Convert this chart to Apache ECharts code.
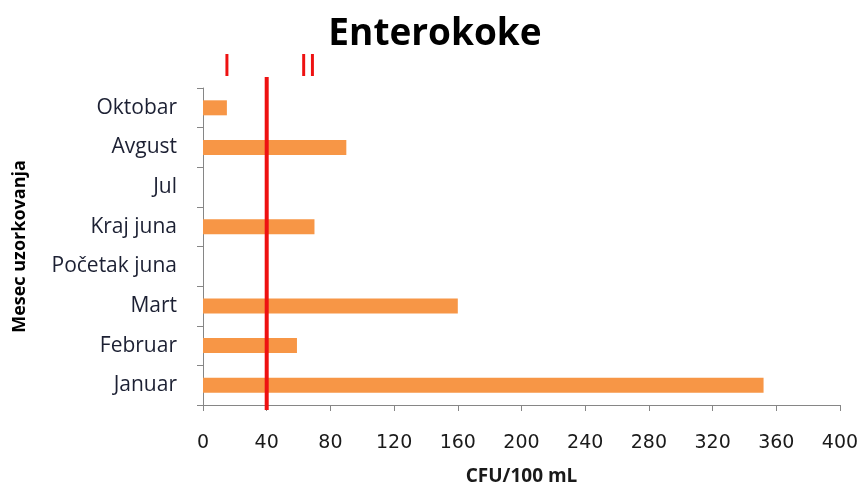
<!DOCTYPE html>
<html>
<head>
<meta charset="utf-8">
<script src="https://cdn.jsdelivr.net/npm/echarts@6/dist/echarts.min.js"></script>
<style>
  html, body { margin: 0; padding: 0; background: #fff; }
  #chart { width: 863px; height: 487px; }
</style>
</head>
<body>
<div id="chart"></div>
<script>
// Sampling months, bottom to top
const months = ['Januar', 'Februar', 'Mart', 'Početak juna', 'Kraj juna', 'Jul', 'Avgust', 'Oktobar'];
// Enterococci counts, CFU/100 mL
const counts = [352, 59, 160, 0, 70, 0, 90, 15];
// Value axis ticks
const axisMin = 0;
const axisMax = 400;
const axisStep = 40;
// Limit line and quality class marks
const limitValue = 40;
const classLabels = ['I', 'II'];
const classValues = [15, 66];

const chart = echarts.init(document.getElementById('chart'));

const labelFont = '"Open Sans", sans-serif';

chart.setOption({
  animation: false,
  backgroundColor: '#ffffff',
  title: {
    text: 'Enterokoke',
    left: 430,
    textAlign: 'center',
    top: 11,
    textStyle: { fontFamily: labelFont, fontWeight: 'bold', fontSize: 37, color: '#000' }
  },
  grid: { left: 203, right: 23, top: 88, bottom: 82, containLabel: false, outerBoundsMode: 'none' },
  xAxis: {
    type: 'value',
    min: axisMin,
    max: axisMax,
    interval: axisStep,
    name: 'CFU/100 mL',
    nameLocation: 'middle',
    nameGap: 62,
    nameTextStyle: { fontFamily: labelFont, fontWeight: 'bold', fontSize: 19, color: '#1a1a1a' },
    axisLine: { show: true, lineStyle: { color: '#868686', width: 1 } },
    axisTick: { show: true, length: 6, lineStyle: { color: '#868686' } },
    splitLine: { show: false },
    axisLabel: { fontFamily: '"DejaVu Sans", sans-serif', fontSize: 19, color: '#1a1a1a', margin: 29 }
  },
  yAxis: {
    type: 'category',
    data: months,
    name: 'Mesec uzorkovanja',
    nameLocation: 'middle',
    nameRotate: 90,
    nameGap: 174,
    nameTextStyle: { fontFamily: labelFont, fontWeight: 'bold', fontSize: 18, color: '#000' },
    axisLine: { show: true, lineStyle: { color: '#868686', width: 1 } },
    axisTick: { show: true, length: 6, inside: false, lineStyle: { color: '#868686' } },
    axisLabel: { fontFamily: labelFont, fontSize: 21, color: '#1c2033', margin: 26 }
  },
  series: [{
    type: 'bar',
    data: counts,
    barWidth: 15,
    itemStyle: { color: '#F79646', borderWidth: 0 }
  }]
});

// Limit line and class marks placed through the value axis
const grid = chart.getModel().getComponent('grid').coordinateSystem.getRect();
const xLimit = chart.convertToPixel({ xAxisIndex: 0 }, limitValue);
const graphics = [{
  type: 'line',
  shape: { x1: xLimit, y1: grid.y - 11, x2: xLimit, y2: grid.y + grid.height + 5 },
  style: { stroke: '#EE1111', lineWidth: 4 },
  z: 10
}];
classLabels.forEach((txt, i) => {
  graphics.push({
    type: 'text',
    x: chart.convertToPixel({ xAxisIndex: 0 }, classValues[i]),
    y: 68,
    style: {
      text: txt,
      fill: '#EE1111',
      font: '30px "DejaVu Sans", sans-serif',
      align: 'center',
      verticalAlign: 'middle'
    },
    z: 10
  });
});
chart.setOption({ graphic: graphics });
</script>
</body>
</html>
